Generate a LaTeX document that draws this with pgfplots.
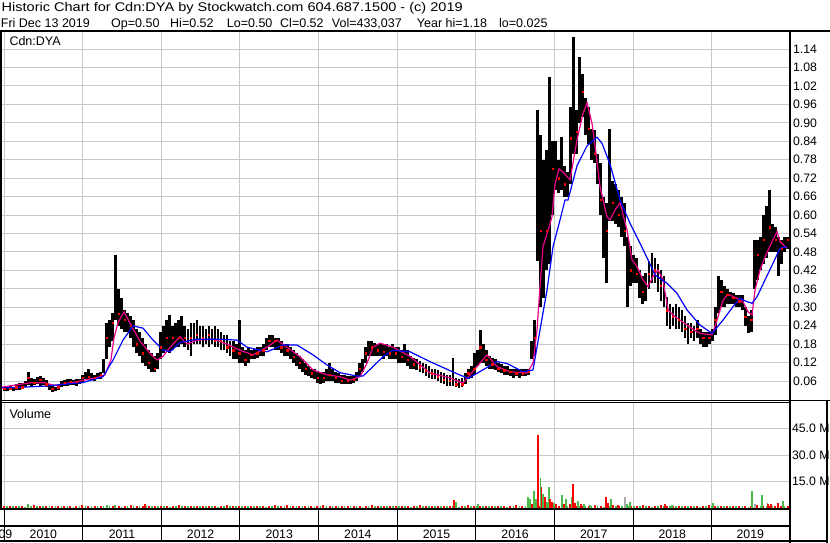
\documentclass[border=0pt]{standalone}
\usepackage{fontspec}
\setmainfont{Liberation Sans}
\usepackage{graphicx}
\usepackage{pgfplots}
\usepackage{pgfplotstable}
\pgfplotsset{compat=1.18}
\definecolor{gridc}{RGB}{200,200,200}
\definecolor{vgreen}{RGB}{76,185,76}
\definecolor{vgray}{RGB}{170,170,170}
\newcommand{\lf}{\fontsize{12.3}{14}\selectfont}
\newcommand{\hf}{\fontsize{12.5}{14}\selectfont}

% k = fortnight index from 1 Jan 2010; lo, hi = range; c = close
\pgfplotstableread{
k lo hi c
0 0.028 0.042 0.035
1 0.026 0.040 0.030
2 0.030 0.045 0.035
3 0.028 0.042 0.033
4 0.030 0.050 0.040
5 0.032 0.055 0.045
6 0.035 0.052 0.040
7 0.040 0.060 0.050
8 0.048 0.088 0.070
9 0.045 0.070 0.060
10 0.048 0.068 0.055
11 0.050 0.072 0.060
12 0.045 0.075 0.065
13 0.048 0.070 0.055
14 0.040 0.062 0.050
15 0.030 0.050 0.040
16 0.025 0.045 0.035
17 0.026 0.040 0.030
18 0.030 0.048 0.040
19 0.040 0.060 0.050
20 0.045 0.062 0.055
21 0.045 0.065 0.055
22 0.048 0.066 0.058
23 0.048 0.062 0.055
24 0.045 0.065 0.058
25 0.050 0.068 0.060
26 0.055 0.080 0.070
27 0.065 0.090 0.080
28 0.065 0.100 0.075
29 0.062 0.085 0.070
30 0.060 0.080 0.070
31 0.065 0.085 0.075
32 0.068 0.088 0.080
33 0.085 0.130 0.120
34 0.130 0.250 0.200
35 0.170 0.260 0.220
36 0.190 0.280 0.250
37 0.260 0.470 0.300
38 0.240 0.360 0.280
39 0.230 0.330 0.270
40 0.220 0.290 0.260
41 0.220 0.280 0.250
42 0.200 0.270 0.240
43 0.170 0.260 0.200
44 0.150 0.230 0.180
45 0.140 0.220 0.170
46 0.120 0.200 0.150
47 0.110 0.180 0.130
48 0.100 0.160 0.120
49 0.090 0.150 0.110
50 0.090 0.140 0.100
51 0.100 0.150 0.120
52 0.130 0.220 0.170
53 0.150 0.240 0.200
54 0.160 0.260 0.200
55 0.150 0.275 0.180
56 0.160 0.240 0.200
57 0.170 0.250 0.210
58 0.170 0.260 0.200
59 0.180 0.270 0.220
60 0.170 0.240 0.200
61 0.160 0.230 0.190
62 0.140 0.250 0.200
63 0.180 0.250 0.210
64 0.180 0.260 0.210
65 0.180 0.240 0.200
66 0.170 0.240 0.200
67 0.180 0.230 0.200
68 0.170 0.240 0.210
69 0.180 0.230 0.200
70 0.170 0.240 0.190
71 0.170 0.230 0.200
72 0.160 0.220 0.190
73 0.160 0.210 0.180
74 0.150 0.210 0.170
75 0.140 0.190 0.160
76 0.130 0.190 0.160
77 0.130 0.180 0.150
78 0.120 0.260 0.150
79 0.120 0.170 0.140
80 0.110 0.160 0.130
81 0.120 0.170 0.140
82 0.130 0.160 0.145
83 0.130 0.165 0.150
84 0.135 0.170 0.150
85 0.140 0.170 0.155
86 0.140 0.180 0.160
87 0.160 0.200 0.180
88 0.170 0.210 0.190
89 0.170 0.210 0.200
90 0.160 0.200 0.190
91 0.160 0.200 0.180
92 0.150 0.190 0.170
93 0.140 0.180 0.160
94 0.140 0.180 0.160
95 0.130 0.170 0.150
96 0.120 0.160 0.140
97 0.110 0.150 0.130
98 0.100 0.140 0.120
99 0.090 0.130 0.110
100 0.080 0.120 0.100
101 0.075 0.110 0.090
102 0.070 0.100 0.085
103 0.065 0.100 0.080
104 0.055 0.090 0.070
105 0.050 0.085 0.065
106 0.055 0.090 0.070
107 0.060 0.100 0.075
108 0.060 0.120 0.080
109 0.060 0.100 0.075
110 0.055 0.090 0.070
111 0.055 0.085 0.065
112 0.050 0.080 0.060
113 0.050 0.080 0.060
114 0.050 0.075 0.060
115 0.050 0.075 0.060
116 0.055 0.080 0.065
117 0.060 0.090 0.075
118 0.075 0.120 0.100
119 0.090 0.130 0.110
120 0.120 0.170 0.150
121 0.140 0.190 0.170
122 0.140 0.190 0.170
123 0.140 0.185 0.165
124 0.140 0.180 0.160
125 0.140 0.180 0.160
126 0.130 0.180 0.155
127 0.140 0.180 0.160
128 0.130 0.170 0.150
129 0.130 0.180 0.150
130 0.130 0.170 0.150
131 0.120 0.170 0.140
132 0.120 0.160 0.140
133 0.120 0.180 0.150
134 0.110 0.160 0.130
135 0.100 0.140 0.120
136 0.100 0.135 0.115
137 0.095 0.130 0.110
138 0.090 0.125 0.105
139 0.085 0.120 0.100
140 0.075 0.115 0.095
141 0.070 0.110 0.090
142 0.065 0.100 0.085
143 0.065 0.100 0.080
144 0.060 0.095 0.075
145 0.055 0.090 0.070
146 0.050 0.085 0.065
147 0.045 0.080 0.060
148 0.045 0.080 0.060
149 0.045 0.135 0.065
150 0.040 0.070 0.050
151 0.038 0.065 0.045
152 0.040 0.070 0.050
153 0.050 0.085 0.065
154 0.065 0.100 0.085
155 0.070 0.110 0.090
156 0.080 0.150 0.100
157 0.110 0.160 0.130
158 0.120 0.226 0.170
159 0.120 0.180 0.150
160 0.110 0.160 0.130
161 0.100 0.140 0.120
162 0.100 0.135 0.115
163 0.095 0.130 0.110
164 0.090 0.120 0.100
165 0.085 0.115 0.100
166 0.080 0.110 0.095
167 0.080 0.110 0.090
168 0.075 0.100 0.090
169 0.070 0.100 0.085
170 0.075 0.100 0.085
171 0.070 0.100 0.080
172 0.075 0.100 0.085
173 0.075 0.100 0.085
174 0.080 0.100 0.090
175 0.130 0.190 0.150
176 0.140 0.260 0.200
177 0.450 0.940 0.700
178 0.300 0.860 0.550
179 0.330 0.780 0.500
180 0.420 0.810 0.550
181 0.440 1.050 0.600
182 0.600 0.840 0.750
183 0.680 0.840 0.780
184 0.670 0.780 0.720
185 0.680 0.855 0.720
186 0.660 0.760 0.700
187 0.660 0.740 0.700
188 0.700 0.950 0.850
189 0.800 1.180 0.880
190 0.800 0.940 0.870
191 0.900 1.115 0.980
192 0.920 1.060 1.000
193 0.860 0.980 0.920
194 0.830 0.950 0.880
195 0.780 0.880 0.820
196 0.770 0.875 0.800
197 0.700 0.800 0.750
198 0.600 0.770 0.650
199 0.460 0.660 0.600
200 0.380 0.640 0.550
201 0.580 0.880 0.650
202 0.580 0.710 0.640
203 0.570 0.700 0.620
204 0.560 0.680 0.600
205 0.530 0.660 0.600
206 0.500 0.640 0.550
207 0.300 0.530 0.450
208 0.370 0.500 0.420
209 0.380 0.470 0.420
210 0.380 0.460 0.410
211 0.330 0.420 0.380
212 0.310 0.400 0.350
213 0.320 0.410 0.370
214 0.360 0.450 0.410
215 0.380 0.476 0.430
216 0.380 0.460 0.420
217 0.350 0.440 0.400
218 0.320 0.420 0.370
219 0.300 0.400 0.340
220 0.240 0.334 0.290
221 0.230 0.310 0.270
222 0.240 0.300 0.270
223 0.230 0.310 0.260
224 0.230 0.300 0.260
225 0.220 0.290 0.250
226 0.200 0.270 0.230
227 0.180 0.250 0.220
228 0.200 0.250 0.220
229 0.190 0.240 0.210
230 0.200 0.260 0.230
231 0.180 0.230 0.210
232 0.170 0.220 0.200
233 0.170 0.220 0.200
234 0.180 0.220 0.200
235 0.190 0.230 0.210
236 0.210 0.300 0.260
237 0.280 0.400 0.330
238 0.300 0.390 0.350
239 0.300 0.370 0.340
240 0.310 0.360 0.340
241 0.310 0.350 0.330
242 0.310 0.345 0.330
243 0.300 0.340 0.320
244 0.300 0.340 0.320
245 0.290 0.340 0.310
246 0.240 0.300 0.270
247 0.215 0.270 0.230
248 0.220 0.290 0.260
249 0.360 0.520 0.450
250 0.390 0.520 0.470
251 0.420 0.530 0.480
252 0.440 0.600 0.520
253 0.460 0.630 0.550
254 0.480 0.680 0.560
255 0.480 0.570 0.530
256 0.480 0.560 0.520
257 0.400 0.530 0.480
258 0.440 0.520 0.490
259 0.480 0.530 0.500
260 0.490 0.530 0.520
}\pricedata

\pgfplotstableread{
k v
-0.7 0.040
8.6 0.054
13.57 0.054
16.9 0.045
25.19 0.060
31.83 0.074
33.49 0.080
35.48 0.130
36.47 0.200
37.8 0.250
39.79 0.285
42.78 0.230
45.1 0.190
48.42 0.150
50.74 0.128
52.74 0.140
55.06 0.170
58.38 0.204
60.7 0.180
64.02 0.193
69.33 0.196
73.98 0.180
78.29 0.160
82.61 0.145
87.26 0.170
90.57 0.193
93.89 0.170
98.21 0.139
102.52 0.096
107.17 0.080
111.48 0.074
114.8 0.063
118.12 0.074
120.44 0.118
122.43 0.170
124.76 0.183
129.07 0.170
134.71 0.140
141.35 0.086
147.99 0.070
152.3 0.053
156.95 0.107
160.27 0.145
163.59 0.107
167.9 0.090
173.55 0.086
175.54 0.118
176.87 0.226
177.86 0.367
178.86 0.497
180.52 0.550
181.84 0.594
182.84 0.700
184.17 0.750
185.49 0.740
187.82 0.714
190.14 0.844
192.13 0.930
193.46 0.965
195.12 0.898
196.45 0.800
197.78 0.692
200.1 0.594
201.1 0.584
202.76 0.616
204.42 0.640
206.74 0.551
208.4 0.454
210.06 0.432
212.05 0.389
213.71 0.367
215.37 0.400
217.03 0.421
218.69 0.389
220.35 0.291
222.67 0.269
224.33 0.258
226.66 0.242
229.98 0.220
230.97 0.215
234.95 0.210
236.61 0.258
238.6 0.323
240.26 0.342
243.25 0.329
245.24 0.318
246.9 0.285
248.23 0.275
249.22 0.356
250.88 0.421
252.54 0.464
254.86 0.513
256.52 0.546
257.52 0.513
259.84 0.492
}\mashort

\pgfplotstableread{
k v
-0.7 0.037
12.91 0.043
26.19 0.055
32.82 0.074
36.14 0.128
39.46 0.193
42.78 0.239
46.1 0.232
49.42 0.193
52.74 0.161
55.06 0.155
58.38 0.185
64.02 0.196
71.66 0.196
77.3 0.193
80.62 0.170
87.26 0.155
92.56 0.177
97.21 0.177
102.52 0.145
107.17 0.112
111.48 0.087
117.12 0.076
119.11 0.076
122.43 0.107
125.75 0.139
129.07 0.160
134.71 0.155
141.35 0.123
149.98 0.085
153.97 0.069
156.95 0.085
163.59 0.123
166.91 0.117
172.22 0.090
175.54 0.096
177.86 0.226
180.19 0.356
182.18 0.497
184.5 0.584
186.16 0.649
187.15 0.649
190.14 0.760
193.46 0.825
196.78 0.853
198.44 0.833
201.1 0.765
204.42 0.649
207.73 0.573
211.05 0.508
213.71 0.454
216.04 0.405
220.02 0.378
223.34 0.345
226.66 0.291
230.97 0.242
234.95 0.215
238.6 0.258
241.92 0.302
244.24 0.329
246.56 0.318
248.23 0.313
249.89 0.334
252.54 0.389
255.2 0.443
257.52 0.492
259.84 0.497
}\malong

\begin{document}
\begin{tikzpicture}[x=1pt,y=1pt]
\useasboundingbox (0,0) rectangle (830,543);
\fill[white] (0,0) rectangle (830,543);

% ---------- price panel ----------
\begin{axis}[
  at={(2pt,143pt)}, anchor=south west,
  width=787pt, height=368pt, scale only axis,
  xmin=-0.7, xmax=260.5, ymin=-0.0018, ymax=1.1953,
  axis line style={draw=none}, major tick length=0pt,
  xtick={0,26.09,52.18,78.27,104.36,130.45,156.54,182.63,208.72,234.81},
  xticklabels={},
  ytick={0.06,0.12,0.18,0.24,0.30,0.36,0.42,0.48,0.54,0.60,0.66,0.72,0.78,0.84,0.90,0.96,1.02,1.08,1.14},
  yticklabels={0.06,0.12,0.18,0.24,0.30,0.36,0.42,0.48,0.54,0.60,0.66,0.72,0.78,0.84,0.90,0.96,1.02,1.08,1.14},
  yticklabel pos=right,
  yticklabel style={font=\lf, anchor=west, xshift=0.5pt},
  grid=major, grid style={draw=gridc, line width=0.9pt},
]
\addplot[draw=none, mark=none,
  error bars/.cd, y dir=plus, y explicit, error mark=none,
  error bar style={draw=black, line width=2.8pt}]
  table[x=k, y=lo, y error expr=\thisrow{hi}-\thisrow{lo}] {\pricedata};
\addplot[only marks, mark=square*, mark size=0.65pt, red, each nth point=2] table[x=k, y=c] {\pricedata};
\addplot[magenta, line width=1.2pt, mark=none] table[x=k, y=v] {\mashort};
\addplot[blue, line width=1.2pt, mark=none] table[x=k, y=v] {\malong};
\end{axis}

% ---------- volume panel ----------
\begin{axis}[
  at={(2pt,33.7pt)}, anchor=south west,
  width=787pt, height=107.3pt, scale only axis,
  xmin=-0.7, xmax=260.5, ymin=-0.56, ymax=59.8,
  axis line style={draw=none}, major tick length=0pt,
  xtick={0,26.09,52.18,78.27,104.36,130.45,156.54,182.63,208.72,234.81},
  xticklabels={},
  ytick={15,30,45}, yticklabels={15.0 M,30.0 M,45.0 M},
  yticklabel pos=right,
  yticklabel style={font=\lf, anchor=west, xshift=-0.5pt},
  grid=major, grid style={draw=gridc, line width=0.9pt},
]
\addplot[ycomb, red, line width=2pt] coordinates {
(0,1.2)(2,1.5)(4,1.1)(6,1.4)(8,1.3)(10,1.6)(12,1.1)(14,1.3)
(16,1.2)(18,1.5)(20,1.1)(22,1.4)(24,1.3)(26,1.6)(28,1.1)(30,1.3)
(32,1.2)(34,1.5)(36,1.1)(38,1.4)(40,1.3)(42,1.6)(44,1.1)(46,1.3)
(48,1.2)(50,1.5)(52,1.1)(54,1.4)(56,1.3)(58,1.6)(60,1.1)(62,1.3)
(64,1.2)(66,1.5)(68,1.1)(70,1.4)(72,1.3)(74,1.6)(76,1.1)(78,1.3)
(80,1.2)(82,1.5)(84,1.1)(86,1.4)(88,1.3)(90,1.6)(92,1.1)(94,1.3)
(96,1.2)(98,1.5)(100,1.1)(102,1.4)(104,1.3)(106,1.6)(108,1.1)(110,1.3)
(112,1.2)(114,1.5)(116,1.1)(118,1.4)(120,1.3)(122,1.6)(124,1.1)(126,1.3)
(128,1.2)(130,1.5)(132,1.1)(134,1.4)(136,1.3)(138,1.6)(140,1.1)(142,1.3)
(144,1.2)(146,1.5)(148,1.1)(150,1.4)(152,1.3)(154,1.6)(156,1.1)(158,1.3)
(160,1.2)(162,1.5)(164,1.1)(166,1.4)(168,1.3)(170,1.6)(172,1.1)(174,1.3)
(176,1.2)(178,1.5)(180,1.1)(182,1.4)(184,1.3)(186,1.6)(188,1.1)(190,1.3)
(192,1.2)(194,1.5)(196,1.1)(198,1.4)(200,1.3)(202,1.6)(204,1.1)(206,1.3)
(208,1.2)(210,1.5)(212,1.1)(214,1.4)(216,1.3)(218,1.6)(220,1.1)(222,1.3)
(224,1.2)(226,1.5)(228,1.1)(230,1.4)(232,1.3)(234,1.6)(236,1.1)(238,1.3)
(240,1.2)(242,1.5)(244,1.1)(246,1.4)(248,1.3)(250,1.6)(252,1.1)(254,1.3)
(256,1.2)(258,1.5)(260,1.1)};
\addplot[ycomb, vgreen, line width=1.6pt] coordinates {
(1,1.1)(3,1.3)(5,1.5)(7,1.0)(9,1.2)(11,1.4)(13,1.1)(15,1.3)
(17,1.1)(19,1.3)(21,1.5)(23,1.0)(25,1.2)(27,1.4)(29,1.1)(31,1.3)
(33,1.1)(35,1.3)(37,1.5)(39,1.0)(41,1.2)(43,1.4)(45,1.1)(47,1.3)
(49,1.1)(51,1.3)(53,1.5)(55,1.0)(57,1.2)(59,1.4)(61,1.1)(63,1.3)
(65,1.1)(67,1.3)(69,1.5)(71,1.0)(73,1.2)(75,1.4)(77,1.1)(79,1.3)
(81,1.1)(83,1.3)(85,1.5)(87,1.0)(89,1.2)(91,1.4)(93,1.1)(95,1.3)
(97,1.1)(99,1.3)(101,1.5)(103,1.0)(105,1.2)(107,1.4)(109,1.1)(111,1.3)
(113,1.1)(115,1.3)(117,1.5)(119,1.0)(121,1.2)(123,1.4)(125,1.1)(127,1.3)
(129,1.1)(131,1.3)(133,1.5)(135,1.0)(137,1.2)(139,1.4)(141,1.1)(143,1.3)
(145,1.1)(147,1.3)(149,1.5)(151,1.0)(153,1.2)(155,1.4)(157,1.1)(159,1.3)
(161,1.1)(163,1.3)(165,1.5)(167,1.0)(169,1.2)(171,1.4)(173,1.1)(175,1.3)
(177,1.1)(179,1.3)(181,1.5)(183,1.0)(185,1.2)(187,1.4)(189,1.1)(191,1.3)
(193,1.1)(195,1.3)(197,1.5)(199,1.0)(201,1.2)(203,1.4)(205,1.1)(207,1.3)
(209,1.1)(211,1.3)(213,1.5)(215,1.0)(217,1.2)(219,1.4)(221,1.1)(223,1.3)
(225,1.1)(227,1.3)(229,1.5)(231,1.0)(233,1.2)(235,1.4)(237,1.1)(239,1.3)
(241,1.1)(243,1.3)(245,1.5)(247,1.0)(249,1.2)(251,1.4)(253,1.1)(255,1.3)
(257,1.1)(259,1.3)};
\addplot[ycomb, vgreen, line width=1.5pt] coordinates {
(7.9,2.2)(34.2,2.0)(36.8,1.8)(150.0,3.5)(157.3,2.5)(173.9,6.5)(174.5,5.4)
(175.9,10.0)(176.6,5.2)(178.0,17.2)(178.9,8.0)(180.2,3.6)(180.9,11.8)
(182.5,3.0)(185.2,7.4)(186.5,5.1)(188.5,6.4)(190.5,4.0)(192.5,2.2)
(194.5,2.0)(201.4,5.3)(206.7,2.2)(207.7,3.5)(221.7,1.8)(235.3,2.8)
(248.2,9.8)(251.5,7.6)(253.3,3.0)(258.5,4.0)};
\addplot[ycomb, red, line width=1.5pt] coordinates {
(46.8,2.2)(93.9,1.8)(149.3,4.8)(175.2,2.2)(177.2,41.5)(178.3,11.8)
(179.5,6.3)(181.2,5.3)(181.8,3.5)(183.2,2.6)(185.8,2.2)(187.8,2.6)
(188.8,13.4)(189.5,3.0)(191.5,2.2)(196.1,1.8)(199.8,6.3)(200.4,3.0)
(203.7,1.8)(212,1.8)(219.3,2.2)(253.6,2.6)(254.5,2.2)(256.9,3.0)};
\addplot[ycomb, vgray, line width=1.5pt] coordinates {(206.1,6.3)(249.2,2.2)};
\end{axis}

% ---------- frames ----------
\draw[line width=2.3pt] (0,512) -- (830,512);
\draw[line width=2pt] (1,512) -- (1,33.8);
\draw[line width=2pt] (789.5,512) -- (789.5,0);
\draw[line width=1pt] (0,142.2) -- (830,142.2);
\draw[line width=1pt] (0,140.4) -- (789,140.4);
\draw[line width=2pt] (0,33.8) -- (789,33.8);
\draw[line width=2pt] (0,16.5) -- (789,16.5);
\draw[line width=2pt] (0,1.5) -- (828,1.5);
\draw[line width=2pt] (827,142) -- (827,0);
\foreach \px in {4.1,82.7,161.3,239.9,318.6,397.2,475.8,554.4,633.0,711.6}
  \draw[line width=1pt] (\px,33.8) -- (\px,1.5);

% ---------- year labels ----------
\foreach \cx/\yr in {43.4/2010,122.0/2011,200.6/2012,279.2/2013,357.9/2014,436.5/2015,515.1/2016,593.7/2017,672.3/2018,750.3/2019}
  \node[anchor=base, inner sep=0, font=\lf] at (\cx,4) {\yr};
\node[anchor=base east, inner sep=0, font=\lf] at (12.5,4) {2009};

% ---------- header ----------
\node[anchor=base west, inner sep=0] at (1.5,531.3)
  {\resizebox{461pt}{\height}{\fontsize{12.6}{14}\selectfont Historic Chart for Cdn:DYA by Stockwatch.com 604.687.1500 - (c) 2019}};
\foreach \tx/\txt in {0.7/{Fri Dec 13 2019},111/{Op=0.50},170/{Hi=0.52},226.7/{Lo=0.50},280/{Cl=0.52},331.7/{Vol=433,037},416.7/{Year hi=1.18},499/{lo=0.025}}
  \node[anchor=base west, inner sep=0, font=\hf] at (\tx,515.7) {\txt};
\node[anchor=base west, inner sep=0, font=\hf] at (9.3,497.3) {Cdn:DYA};
\node[anchor=base west, inner sep=0, font=\hf] at (9.3,124.7) {Volume};
\end{tikzpicture}
\end{document}
